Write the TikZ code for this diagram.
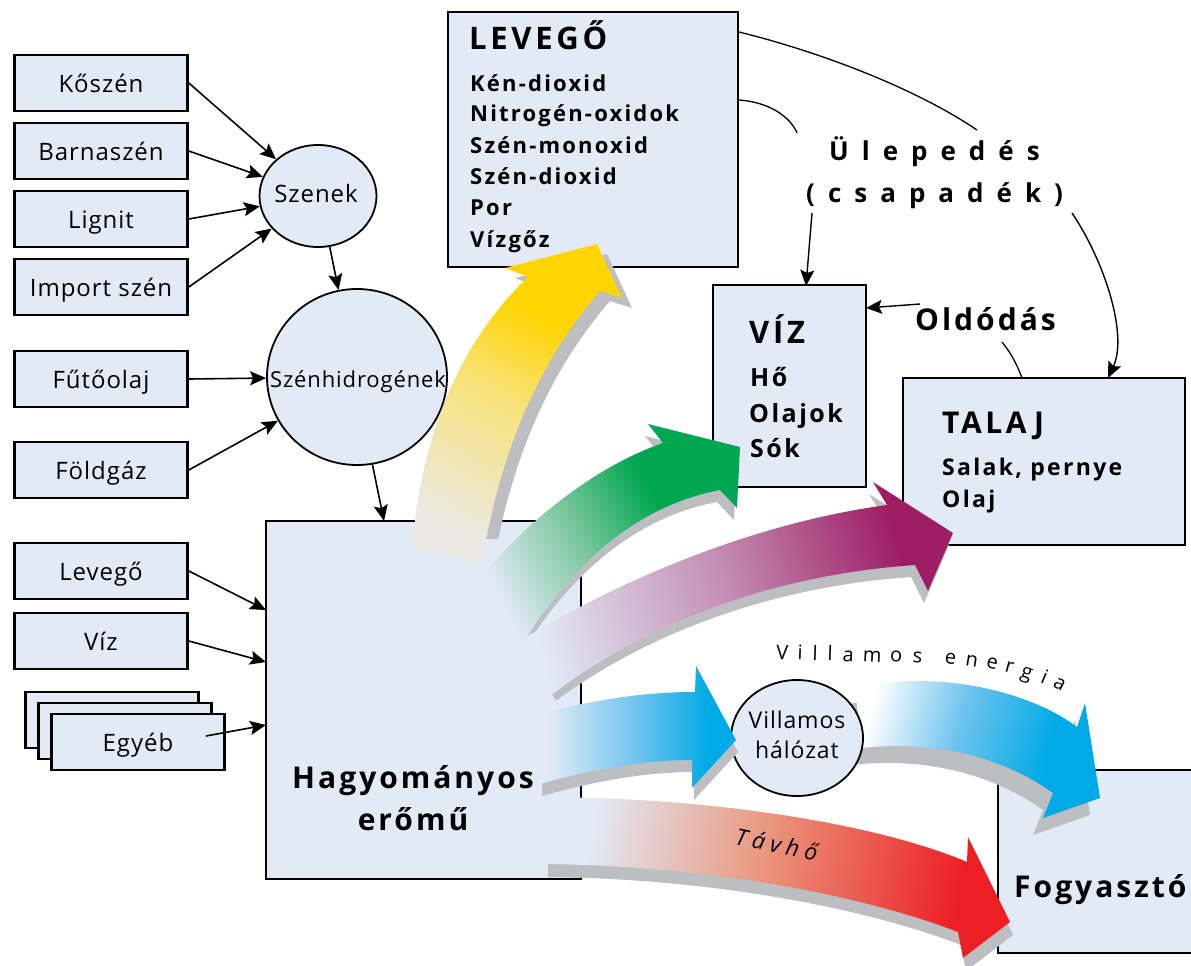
\documentclass[tikz,border=0pt]{standalone}
\usepackage{fontspec}
\setmainfont{Open Sans}[LetterSpace=4]
\newfontfamily\sA{Open Sans}[LetterSpace=10]
\newfontfamily\sB{Open Sans}[LetterSpace=12]
\newfontfamily\sC{Open Sans}[LetterSpace=50]
\newfontfamily\sD{Open Sans}[LetterSpace=24]
\usetikzlibrary{shapes.geometric,arrows.meta}

\definecolor{boxfill}{RGB}{226,234,246}
\definecolor{shadowgray}{RGB}{189,190,194}
\definecolor{yelC}{RGB}{255,212,0}
\definecolor{yelM}{RGB}{248,226,120}
\definecolor{yelS}{RGB}{234,233,226}
\definecolor{grnC}{RGB}{0,166,81}
\definecolor{grnM}{RGB}{120,198,155}
\definecolor{purC}{RGB}{158,30,100}
\definecolor{purM}{RGB}{195,140,180}
\definecolor{bluC}{RGB}{0,170,230}
\definecolor{bluM}{RGB}{110,195,238}
\definecolor{bluW}{RGB}{255,255,255}
\definecolor{redC}{RGB}{237,30,36}
\definecolor{redM}{RGB}{234,150,125}

\pgfdeclarehorizontalshading{shY}{100bp}{color(0bp)=(yelS); color(25bp)=(yelS); color(50bp)=(yelM); color(66bp)=(yelC); color(100bp)=(yelC)}
\pgfdeclarehorizontalshading{shG}{100bp}{color(0bp)=(boxfill); color(25bp)=(boxfill); color(45bp)=(grnM); color(62bp)=(grnC); color(100bp)=(grnC)}
\pgfdeclarehorizontalshading{shP}{100bp}{color(0bp)=(boxfill); color(25bp)=(boxfill); color(50bp)=(purM); color(72bp)=(purC); color(100bp)=(purC)}
\pgfdeclarehorizontalshading{shBa}{100bp}{color(0bp)=(boxfill); color(27bp)=(boxfill); color(50bp)=(bluM); color(68bp)=(bluC); color(100bp)=(bluC)}
\pgfdeclarehorizontalshading{shBb}{100bp}{color(0bp)=(bluW); color(25bp)=(bluW); color(45bp)=(bluM); color(66bp)=(bluC); color(100bp)=(bluC)}
\pgfdeclarehorizontalshading{shR}{100bp}{color(0bp)=(boxfill); color(27bp)=(boxfill); color(48bp)=(redM); color(72bp)=(redC); color(100bp)=(redC)}

\newcommand\ArrYel[1]{\path[#1] (412,548) .. controls (422,430) and (462,340) .. (528,277) -- (505,268) -- (597,244) -- (622,298) -- (600,291) .. controls (540,360) and (500,450) .. (482,563) -- cycle;}
\newcommand\ArrGrn[1]{\path[#1] (470,590) .. controls (530,515) and (600,465) .. (663,443) -- (648,424) -- (740,447) -- (737,508) -- (720,490) .. controls (640,505) and (575,560) .. (525,640) -- cycle;}
\newcommand\ArrPur[1]{\path[#1] (505,650) .. controls (600,590) and (740,525) .. (887,505) -- (873,482) -- (953,533) -- (928,591) -- (915,565) .. controls (770,575) and (640,625) .. (545,700) -- cycle;}
\newcommand\ArrBla[1]{\path[#1] (540,714) .. controls (600,698) and (650,692) .. (695,692) -- (696,666) -- (736,740) -- (692,788) -- (692,760) .. controls (650,760) and (600,767) .. (540,784) -- cycle;}
\newcommand\ArrBlb[1]{\path[#1] (855,688) .. controls (930,670) and (1025,688) .. (1077,727) -- (1085,703) -- (1100,798) -- (1043,818) -- (1053,793) .. controls (1000,755) and (930,740) .. (862,748) -- cycle;}
\newcommand\ArrRed[1]{\path[#1] (545,797) .. controls (720,798) and (880,825) .. (967,862) -- (968,837) -- (1010,922) -- (963,958) -- (958,932) .. controls (870,898) and (720,866) .. (545,864) -- cycle;}

\begin{document}
\begin{tikzpicture}[x=1pt,y=-1pt,
  srcbox/.style={draw, line width=2.6pt, fill=boxfill, minimum width=173pt, minimum height=56pt, inner sep=0pt, text height=19pt, text depth=0pt, font=\fontsize{24}{28}\selectfont},
  bigbox/.style={draw, line width=2.8pt, fill=boxfill, inner sep=0pt},
  roundbox/.style={ellipse, draw, line width=1.8pt, fill=boxfill, inner sep=0pt},
  txt/.style={inner sep=0pt, anchor=base west},
  listA/.style={txt, font=\sA\bfseries\fontsize{22}{26}\selectfont},
  titleA/.style={txt, font=\sB\bfseries\fontsize{31}{34}\selectfont},
  conn/.style={line width=1.6pt, -{Stealth[length=16pt,width=14pt,inset=3pt]}},
  thinline/.style={line width=1.3pt},
  shadowfill/.style={fill=shadowgray},
  ve/.style={inner sep=0pt, anchor=base, font=\fontsize{20}{24}\selectfont}
]
\useasboundingbox (0,0) rectangle (1191,966);
\clip (0,0) rectangle (1191,966);
\fill[white] (0,0) rectangle (1191,966);

% ---------- source boxes ----------
\node[srcbox] (koszen) at (101,83) {Kőszén};
\node[srcbox] (barna) at (101,151) {Barnaszén};
\node[srcbox] (lignit) at (101,219) {Lignit};
\node[srcbox] (import) at (101,287) {Import szén};
\node[srcbox] (futo) at (101,379) {Fűtőolaj};
\node[srcbox] (foldgaz) at (101,470) {Földgáz};
\node[srcbox] (levin) at (101,571) {Levegő};
\node[srcbox] (vizin) at (101,641) {Víz};
\node[srcbox] (egy3) at (112,720) {};
\node[srcbox] (egy2) at (125,731) {};
\node[srcbox] (egy) at (138,742) {Egyéb};

% ---------- circles ----------
\node[roundbox, minimum width=117pt, minimum height=102pt] (szenek) at (318,196) {};
\node[inner sep=0pt, anchor=base, font=\fontsize{24}{28}\selectfont] (szenekT) at (316,202) {Szenek};
\node[roundbox, minimum width=180pt, minimum height=176pt] (szh) at (357,377) {};
\node[inner sep=0pt, anchor=base, font=\fontsize{22}{26}\selectfont] (szhT) at (358,387) {Szénhidrogének};

% ---------- main boxes ----------
\node[bigbox, minimum width=315pt, minimum height=358pt] (eromu) at (423.5,700) {};
\node[bigbox, minimum width=290pt, minimum height=255pt] (levego) at (593,139.5) {};
\node[bigbox, minimum width=153pt, minimum height=202pt] (viz) at (789.5,386) {};
\node[bigbox, minimum width=282pt, minimum height=167pt] (talaj) at (1044,461.5) {};
\node[bigbox, minimum width=252pt, minimum height=183pt] (fogy) at (1124,861.5) {};

% texts in boxes
\node[titleA] (levT) at (469,50) {LEVEGŐ};
\node[listA] (l1) at (470,91) {Kén-dioxid};
\node[listA] (l2) at (470,121) {Nitrogén-oxidok};
\node[listA] (l3) at (470,153) {Szén-monoxid};
\node[listA] (l4) at (470,184) {Szén-dioxid};
\node[listA] (l5) at (470,215) {Por};
\node[listA] (l6) at (470,247) {Vízgőz};

\node[titleA] (vizT) at (749,343) {VÍZ};
\node[txt, font=\sA\bfseries\fontsize{25}{28}\selectfont] (v1) at (750,386) {Hő};
\node[txt, font=\sA\bfseries\fontsize{25}{28}\selectfont] (v2) at (749,422) {Olajok};
\node[txt, font=\sA\bfseries\fontsize{25}{28}\selectfont] (v3) at (750,457) {Sók};

\node[txt, font=\sB\bfseries\fontsize{30}{34}\selectfont] (talT) at (942,433) {TALAJ};
\node[txt, font=\sA\bfseries\fontsize{23}{26}\selectfont] (t1) at (942,475) {Salak, pernye};
\node[txt, font=\sA\bfseries\fontsize{23}{26}\selectfont] (t2) at (942,507) {Olaj};

% ---------- big arrows ----------
\begin{scope}
  \clip (0,0) rectangle (1191,538);
  \ArrYel{shadowfill, shift={(10,10)}}
\end{scope}
\ArrYel{shade, shading=shY, shading angle=62}
\begin{scope}
  \clip (400,520) -- (600,703) -- (1191,703) -- (1191,0) -- (400,0) -- cycle;
  \ArrGrn{shadowfill, shift={(-3,12)}}
\end{scope}
\ArrGrn{shade, shading=shG, shading angle=28}
\begin{scope}
  \clip (400,505) -- (640,805) -- (1191,805) -- (1191,0) -- (400,0) -- cycle;
  \ArrPur{shadowfill, shift={(-4,12)}}
\end{scope}
\ArrPur{shade, shading=shP, shading angle=16}
\ArrRed{shadowfill, shift={(3,13)}}
\ArrRed{shade, shading=shR, shading angle=-10}
\ArrBlb{shadowfill, shift={(-10,17)}}
\ArrBlb{shade, shading=shBb, shading angle=-15}

\node[roundbox, minimum width=132pt, minimum height=116pt] (halo) at (797,738) {};
\node[inner sep=0pt, anchor=base, font=\fontsize{23}{26}\selectfont] (halo1) at (797,728) {Villamos};
\node[inner sep=0pt, anchor=base, font=\fontsize{23}{26}\selectfont] (halo2) at (797,758) {hálózat};

\ArrBla{shadowfill, shift={(2,12)}}
\ArrBla{shade, shading=shBa, shading angle=0}

% big box texts
\node[inner sep=0pt, anchor=base, font=\sA\bfseries\fontsize{30}{34}\selectfont] (hag1) at (413,788) {Hagyományos};
\node[inner sep=0pt, anchor=base, font=\sA\bfseries\fontsize{30}{34}\selectfont] (hag2) at (413,830) {erőmű};
\node[txt, font=\sA\bfseries\fontsize{30}{34}\selectfont] (fogyT) at (1014,897) {Fogyasztó};

% flow labels
\node[txt, font=\sD\itshape\fontsize{23}{26}\selectfont, rotate=-12] (tav) at (734,844) {Távhő};

\node[ve, rotate=-2] (ve1) at (782,660) {V};
\node[ve, rotate=-2] (ve2) at (800,660) {i};
\node[ve, rotate=-2] (ve3) at (815,661) {l};
\node[ve, rotate=-2] (ve4) at (830,661) {l};
\node[ve, rotate=-3] (ve5) at (848,662) {a};
\node[ve, rotate=-3] (ve6) at (872,662) {m};
\node[ve, rotate=-3] (ve7) at (896,662) {o};
\node[ve, rotate=-4] (ve8) at (917,663) {s};
\node[ve, rotate=-6] (ve9) at (950,664) {e};
\node[ve, rotate=-9] (ve10) at (971,666) {n};
\node[ve, rotate=-12] (ve11) at (991,669) {e};
\node[ve, rotate=-15] (ve12) at (1008,673) {r};
\node[ve, rotate=-19] (ve13) at (1025,678) {g};
\node[ve, rotate=-23] (ve14) at (1042,683) {i};
\node[ve, rotate=-27] (ve15) at (1057,689) {a};

\node[txt, font=\sC\bfseries\fontsize{26}{30}\selectfont] (ulep) at (829,160) {Ülepedés};
\node[txt, font=\sC\bfseries\fontsize{26}{30}\selectfont] (csap) at (806,202) {(csapadék)};
\node[txt, font=\sA\bfseries\fontsize{30}{34}\selectfont] (oldo) at (915,330) {Oldódás};

% ---------- named free ends ----------
\coordinate (eTop) at (384,521);
\coordinate (eIn1) at (266,610);
\coordinate (eIn2) at (266,662);
\coordinate (eIn3) at (266,725);
\coordinate (egyS) at (206,736);
\coordinate (lev1) at (739,32);
\coordinate (lev2) at (739,100);
\coordinate (ul1) at (977,130);
\coordinate (ul2) at (797,133);
\coordinate (csL) at (812,213);
\coordinate (csR) at (1072,213);
\coordinate (vizTop) at (806,286);
\coordinate (talTop) at (1108,378);
\coordinate (talTop2) at (1022,378);
\coordinate (oldL) at (920,304);
\coordinate (oldB) at (1002,342);
\coordinate (vizRight) at (866,308);

% ---------- connectors ----------
\draw[conn] (koszen.east) -- (szenek);
\draw[conn] (barna.east) -- (szenek);
\draw[conn] (lignit.east) -- (szenek);
\draw[conn] (import.east) -- (szenek);
\draw[conn] (szenek.283) -- (szh.102);
\draw[conn] (futo.east) -- (szh);
\draw[conn] (foldgaz.east) -- (szh);
\draw[conn] (szh.-80) -- (eTop);
\draw[conn] (levin.east) -- (eIn1);
\draw[conn] (vizin.east) -- (eIn2);
\draw[conn] (egyS) -- (eIn3);

\draw[thinline] (lev1) .. controls (820,52) and (915,88) .. (ul1);
\draw[thinline] (lev2) .. controls (768,102) and (790,116) .. (ul2);
\draw[conn, line width=1.4pt] (csL) -- (vizTop);
\draw[conn, line width=1.4pt] (csR) .. controls (1105,262) and (1128,335) .. (talTop);
\draw[conn, line width=1.4pt] (oldL) -- (vizRight);
\draw[thinline] (talTop2) .. controls (1016,362) and (1010,352) .. (oldB);
\end{tikzpicture}
\end{document}
